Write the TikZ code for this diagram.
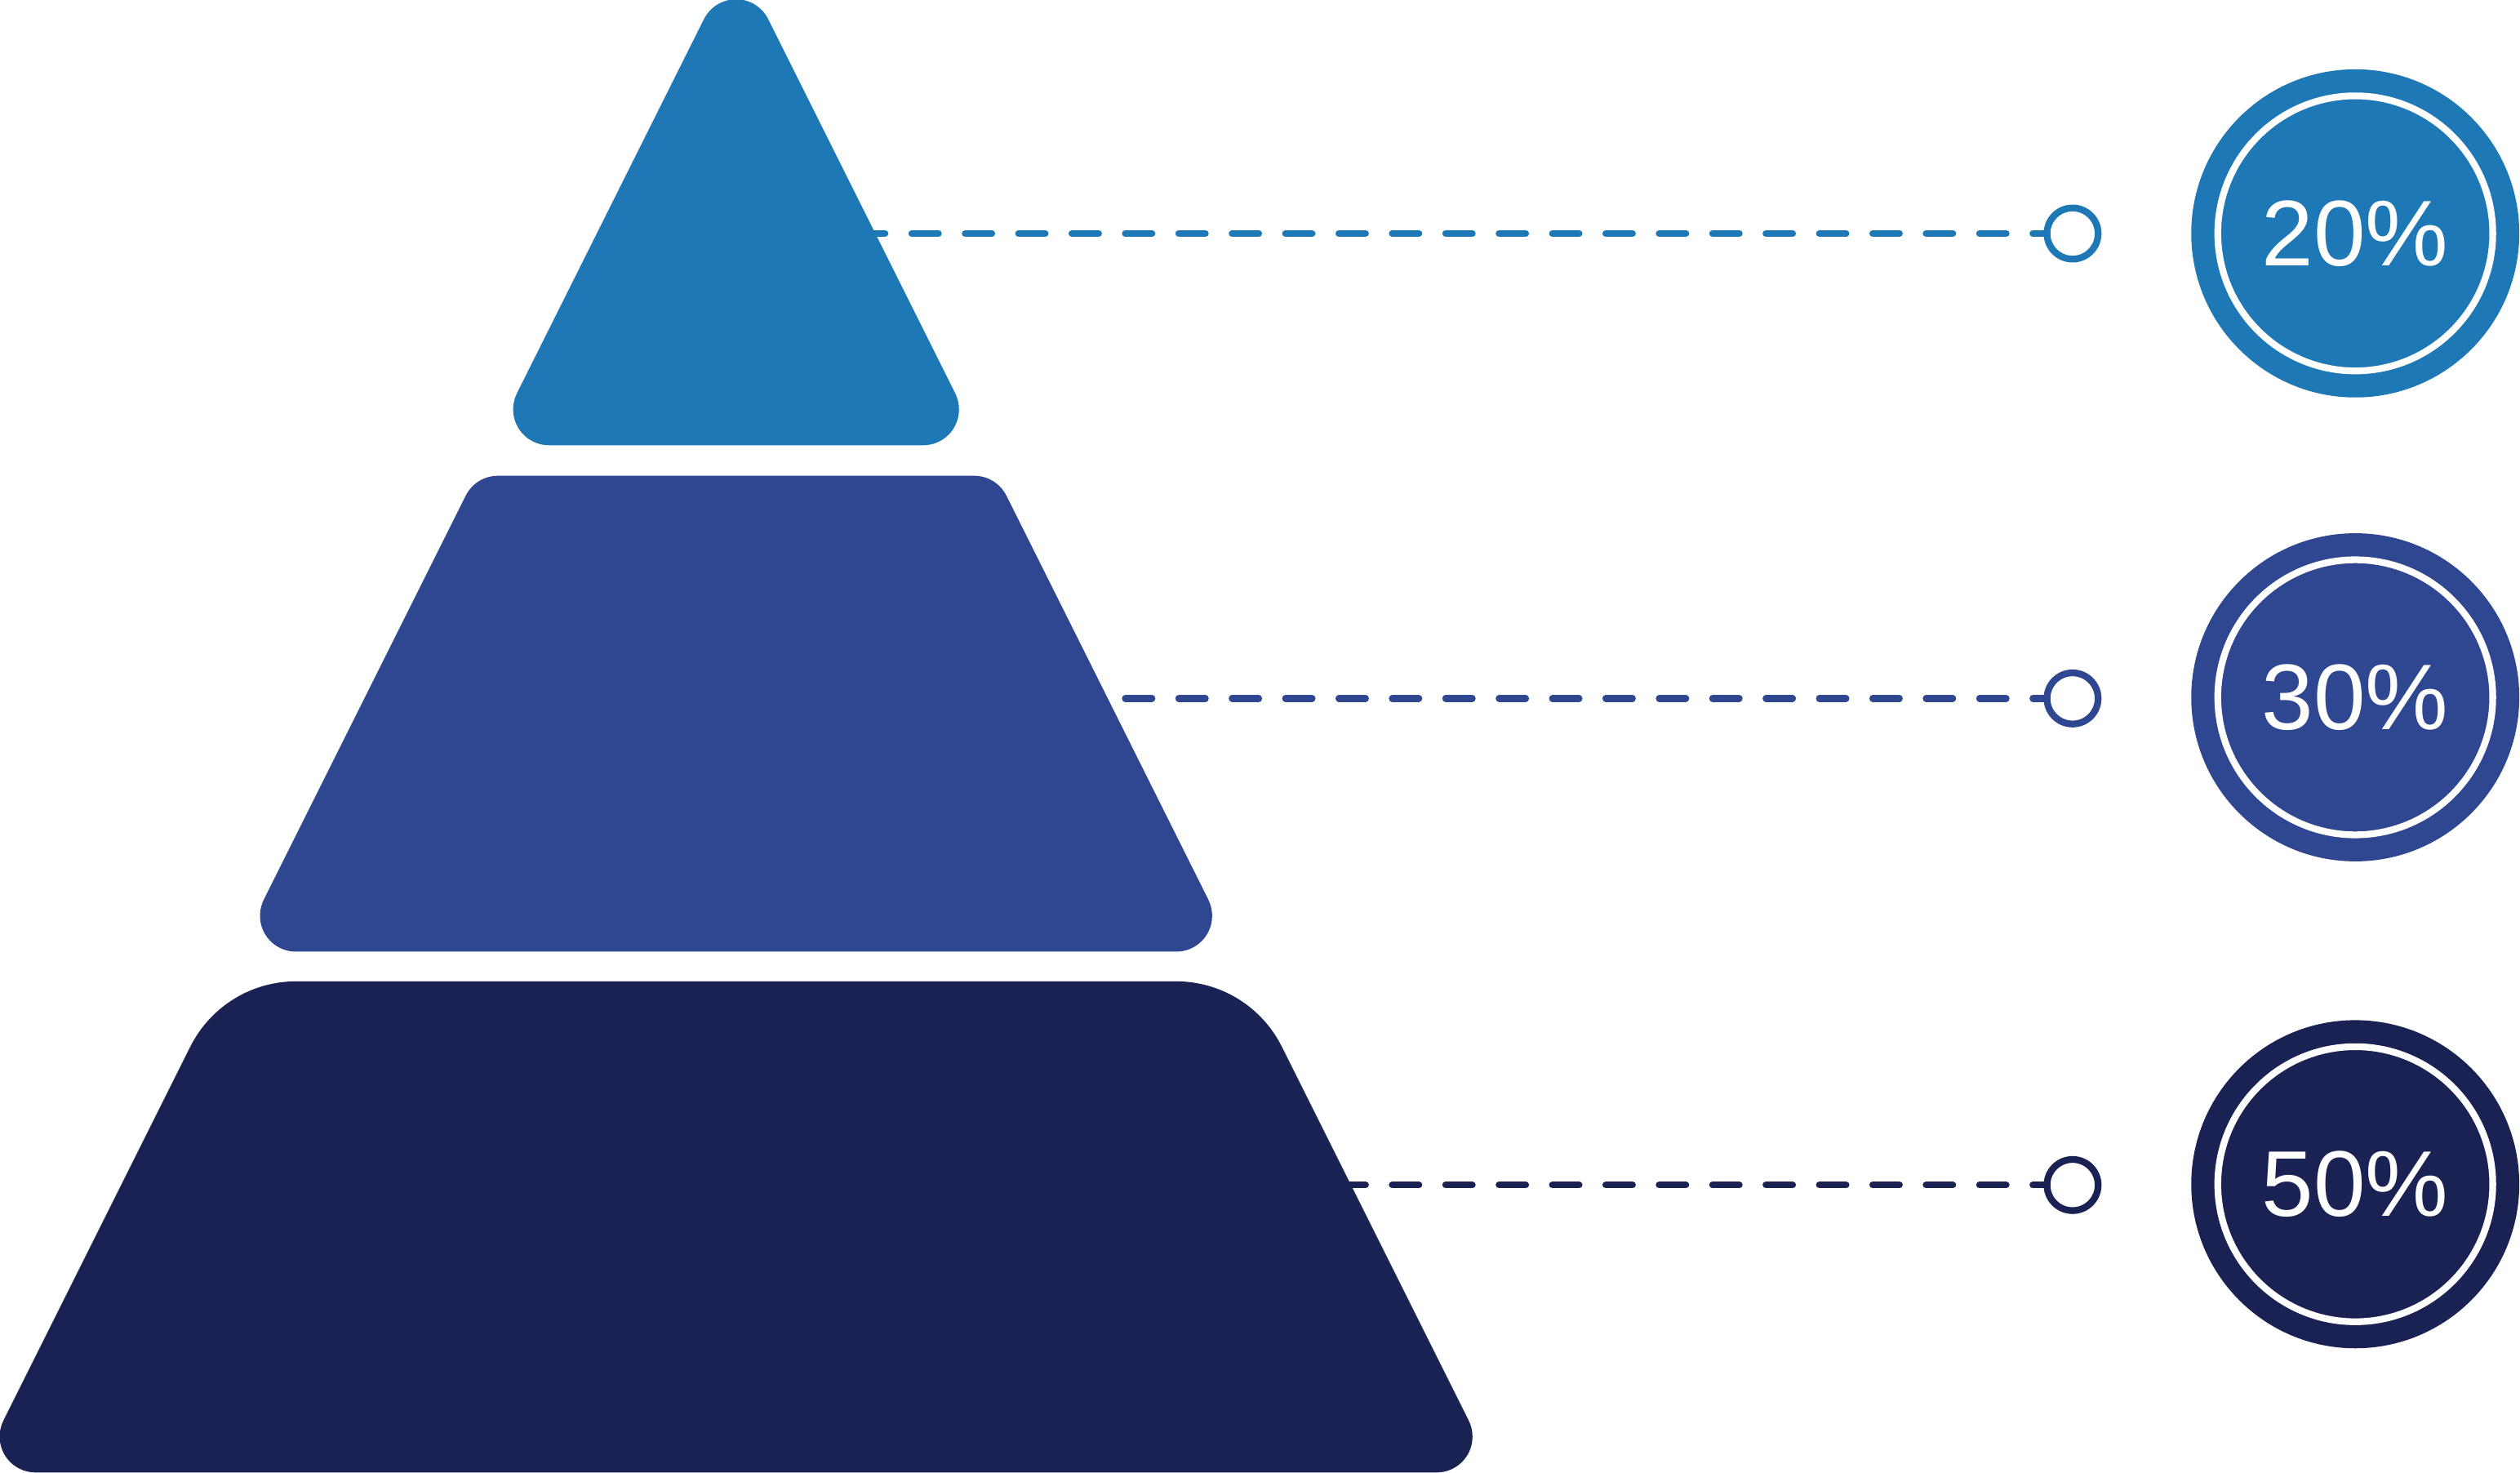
\documentclass[tikz,border=0pt]{standalone}
\usepackage{fontspec}
\setmainfont{Liberation Sans}
\definecolor{tipblue}{RGB}{30,120,182}
\definecolor{midblue}{RGB}{46,71,144}
\definecolor{baseblue}{RGB}{26,34,84}
\tikzset{
  leader/.style={line width=0.42mm, line cap=round, dash pattern=on 1.66mm off 1.66mm},
  endring/.style={circle, draw, fill=white, line width=0.42mm, minimum size=3.18mm, inner sep=0pt, outer sep=0pt},
  disc/.style={circle, minimum size=2.04cm, inner sep=0pt, outer sep=0pt},
  ring/.style={circle, draw=white, line width=0.42mm, minimum size=1.71cm, inner sep=0pt, text=white, font=\fontsize{16.5}{20}\selectfont}
}
\begin{document}
\begin{tikzpicture}[x=0.01cm,y=0.01cm]
\useasboundingbox (0,0) rectangle (1568,916);

%Shape: end rings
\node [endring, draw=tipblue] (e20) at (1289.6,770.7) {};
\node [endring, draw=midblue] (e30) at (1289.6,481.5) {};
\node [endring, draw=baseblue] (e50) at (1289.6,178.8) {};
\coordinate (s20) at (467.65,770.7);
\coordinate (s30) at (467.65,481.5);
\coordinate (s50) at (467.65,178.8);

%Shape: dashed leaders
\draw [leader, tipblue] (s20) -- (e20.west);
\draw [leader, midblue] (s30) -- (e30.west);
\draw [leader, baseblue] (s50) -- (e50.west);

%Shape: top block
\fill [tipblue] (341.58,639) -- (574.42,639) arc [start angle=-90, end angle=26.57, radius=22.3]
  -- (477.95,904.11) arc [start angle=26.57, end angle=153.43, radius=22.3]
  -- (321.64,671.27) arc [start angle=153.43, end angle=270, radius=22.3] -- cycle;
%Shape: middle block
\fill [midblue] (184.08,324) -- (731.92,324) arc [start angle=-90, end angle=26.57, radius=22.3]
  -- (626.16,607.67) arc [start angle=26.57, end angle=90, radius=22.3]
  -- (309.78,620) arc [start angle=90, end angle=153.43, radius=22.3]
  -- (164.14,356.27) arc [start angle=153.43, end angle=270, radius=22.3] -- cycle;
%Shape: bottom block
\fill [baseblue] (22.08,0) -- (893.92,0) arc [start angle=-90, end angle=26.57, radius=22.3]
  -- (797.56,264.88) arc [start angle=26.57, end angle=90, radius=73.5]
  -- (184.17,305.5) arc [start angle=90, end angle=153.43, radius=73.5]
  -- (2.14,32.27) arc [start angle=153.43, end angle=270, radius=22.3] -- cycle;

%Shape: percent discs
\node [disc, fill=tipblue] (d20) at (1465.5,770.8) {};
\node [ring] (r20) at (d20.center) {20\%};
\node [disc, fill=midblue] (d30) at (1465.5,482.2) {};
\node [ring] (r30) at (d30.center) {30\%};
\node [disc, fill=baseblue] (d50) at (1465.5,179.3) {};
\node [ring] (r50) at (d50.center) {50\%};
\end{tikzpicture}
\end{document}
